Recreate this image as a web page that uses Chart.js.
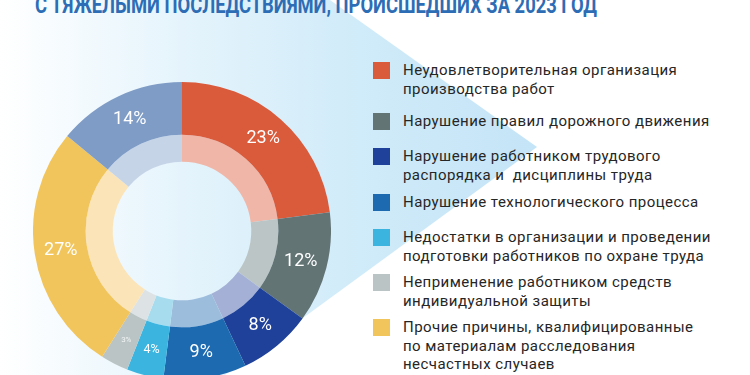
<!DOCTYPE html>
<html lang="ru">
<head>
<meta charset="utf-8">
<script src="https://cdn.jsdelivr.net/npm/chart.js@4.4.1/dist/chart.umd.min.js"></script>
<style>
  html, body { margin:0; padding:0; width:750px; height:375px; overflow:hidden; background:#fff; }
  #bg { position:absolute; left:0; top:0; width:750px; height:375px;
        background: linear-gradient(90deg, #ffffff 0px, #e5f4fc 180px, #d0ebf9 360px, #c4e4f7 540px);
        clip-path: polygon(0px 0px, 330px 0px, 537px 147px, 225px 375px, 0px 375px); }
  #title { position:absolute; left:35px; top:-7px; font-family: Roboto, "Liberation Sans", sans-serif;
           font-weight:700; font-size:24px; line-height:24px; color:#2d6db5; white-space:nowrap;
           transform-origin: 0 0; }
  #wrap { position:absolute; left:33px; top:82px; width:298px; height:298px; }
  #legend { position:absolute; left:373px; top:61px; width:370px; font-family: Roboto, "Liberation Sans", sans-serif;
            font-size:15px; line-height:18.5px; color:#262626; }
  .item { display:flex; align-items:flex-start; min-height:27px; padding-bottom:8px; }
  .item:first-child { padding-bottom:14px; }
  .item:nth-child(3) { padding-bottom:9px; }
  .sw { width:17px; height:17px; flex:0 0 17px; margin-top:1px; margin-right:13px; }
  .txt { letter-spacing:0.45px; }
</style>
</head>
<body>
<div id="bg"></div>
<div id="title">С ТЯЖЕЛЫМИ ПОСЛЕДСТВИЯМИ, ПРОИСШЕДШИХ ЗА 2023 ГОД</div>
<div id="wrap"><canvas id="c" width="298" height="298"></canvas></div>
<div id="legend"></div>
<script>
// ---- data ----
const categories = [
  "Неудовлетворительная организация\nпроизводства работ",
  "Нарушение правил дорожного движения",
  "Нарушение работником трудового\nраспорядка и\u00a0 дисциплины труда",
  "Нарушение технологического процесса",
  "Недостатки в организации и проведении\nподготовки работников по охране труда",
  "Неприменение работником средств\nиндивидуальной защиты",
  "Прочие причины, квалифицированные\nпо материалам расследования\nнесчастных случаев",
  ""
];
const shares = [23, 12, 8, 9, 4, 3, 27, 14];
const outerColors = ["#da5a3c", "#637475", "#1f4199", "#1e6ab1", "#3bb5e0", "#bac4c5", "#f2c55c", "#7f9cc6"];
const innerColors = ["#f0b6a8", "#bcc5c6", "#a4b0d5", "#9dbddd", "#a7dcef", "#dde3e5", "#fbe4b8", "#c6d4e7"];

// ---- title fit ----
const title = document.getElementById('title');
const tw = title.getBoundingClientRect().width;
title.style.transform = 'scaleX(' + (562 / tw) + ')';

// ---- legend ----
const legend = document.getElementById('legend');
categories.forEach((name, i) => {
  if (!name) return;
  const item = document.createElement('div');
  item.className = 'item';
  const sw = document.createElement('div');
  sw.className = 'sw';
  sw.style.background = outerColors[i];
  const t = document.createElement('div');
  t.className = 'txt';
  t.innerHTML = name.split('\n').map(s => s.replace(/&/g,'&amp;').replace(/</g,'&lt;')).join('<br>');
  item.appendChild(sw); item.appendChild(t);
  legend.appendChild(item);
});

// ---- labels plugin ----
const pctLabels = {
  id: 'pctLabels',
  afterDatasetsDraw(chart) {
    const ctx = chart.ctx;
    const meta = chart.getDatasetMeta(0);
    const vals = chart.data.datasets[0].data;
    ctx.save();
    ctx.textAlign = 'center';
    ctx.textBaseline = 'middle';
    meta.data.forEach((arc, i) => {
      const v = vals[i];
      const p = arc.tooltipPosition();
      const size = v >= 8 ? 18 : (v >= 4 ? 12.5 : 8);
      ctx.font = '400 ' + size + 'px Roboto, "Liberation Sans", sans-serif';
      ctx.fillStyle = v >= 4 ? '#ffffff' : 'rgba(255,255,255,0.8)';
      ctx.fillText(v + '%', p.x, p.y);
    });
    ctx.restore();
  }
};

new Chart(document.getElementById('c'), {
  type: 'doughnut',
  data: {
    labels: categories,
    datasets: [
      { data: shares, backgroundColor: outerColors, borderWidth: 0, weight: 52.5 },
      { data: shares, backgroundColor: innerColors, borderWidth: 0, weight: 27 }
    ]
  },
  options: {
    responsive: false,
    animation: false,
    cutout: '46.5%',
    layout: { padding: 0 },
    plugins: { legend: { display: false }, tooltip: { enabled: false } },
    events: []
  },
  plugins: [pctLabels]
});
</script>
</body>
</html>
